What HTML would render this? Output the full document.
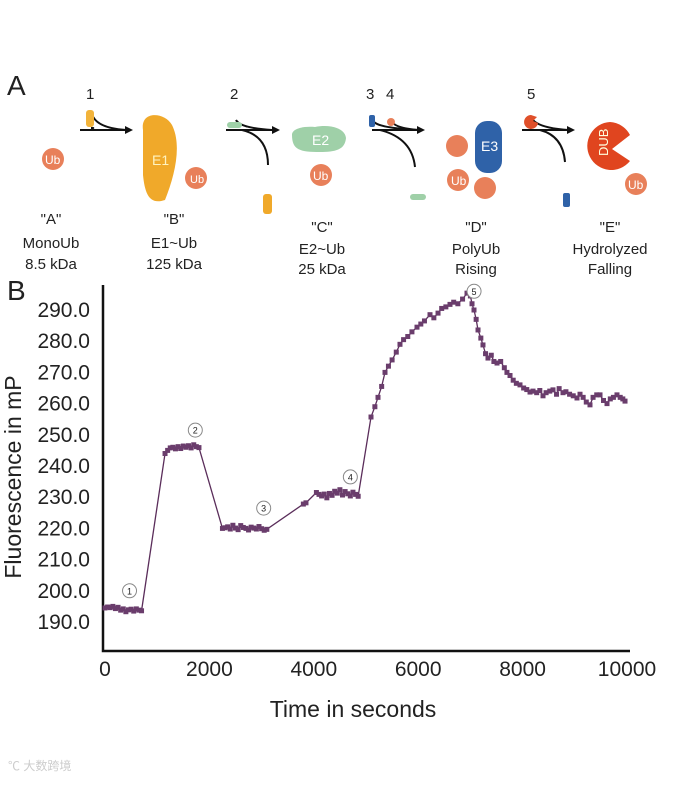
<!DOCTYPE html>
<html><head><meta charset="utf-8">
<style>
html,body{margin:0;padding:0;background:#fff;}
body{width:673px;height:780px;overflow:hidden;font-family:"Liberation Sans",sans-serif;}
svg text{font-family:"Liberation Sans",sans-serif;}
</style></head>
<body>
<svg id="fig" width="673" height="780" viewBox="0 0 673 780" xmlns="http://www.w3.org/2000/svg">
 <g fill="#222">
  <text x="7" y="95" font-size="28">A</text>
  <g font-size="15">
   <text x="86" y="99">1</text><text x="230" y="99">2</text><text x="366" y="99">3</text><text x="386" y="99">4</text><text x="527" y="99">5</text>
  </g>
  <g stroke="#111" stroke-width="2" fill="none">
   <path d="M80 130 L128 130"/><path d="M91 128 Q95 128 92 128"/><path d="M92 114 Q96 128 126 130"/>
   <path d="M226 130 L275 130"/><path d="M236 120 Q240 128 272 130"/><path d="M242 130 Q268 136 268 165"/>
   <path d="M372 130 L420 130"/><path d="M374 122 Q380 128 418 130"/><path d="M392 122 Q396 128 418 130"/><path d="M380 130 Q412 138 415 167"/>
   <path d="M522 130 L570 130"/><path d="M533 120 Q540 128 568 130"/><path d="M540 130 Q563 136 565 162"/>
  </g>
  <g fill="#111">
   <path d="M133 130 l-8 -4 v8z"/><path d="M280 130 l-8 -4 v8z"/><path d="M425 130 l-8 -4 v8z"/><path d="M575 130 l-8 -4 v8z"/>
  </g>
  <rect x="86" y="110" width="8" height="17" rx="3" fill="#f2b33a"/>
  <circle cx="53" cy="159" r="11" fill="#e8805a"/><text x="45" y="164" font-size="12" fill="#fff">Ub</text>
  <path d="M143 130 C140 110 165 112 172 125 C182 145 175 175 165 200 C150 205 145 195 143 175Z" fill="#f0a92a"/>
  <text x="152" y="165" font-size="14" fill="#fff3c0">E1</text>
  <circle cx="196" cy="178" r="11" fill="#e8805a"/><text x="190" y="183" font-size="11" fill="#fff">Ub</text>
  <rect x="227" y="122" width="15" height="6" rx="3" fill="#9fd0a8"/>
  <rect x="263" y="194" width="9" height="20" rx="3" fill="#f0a92a"/>
  <path d="M292 135 C292 128 305 126 315 127 C330 124 345 128 346 138 C345 150 335 152 320 152 C300 152 292 150 292 135Z" fill="#9fd0a8"/>
  <text x="312" y="145" font-size="14" fill="#fff">E2</text>
  <circle cx="321" cy="175" r="11" fill="#e8805a"/><text x="313" y="180" font-size="12" fill="#fff">Ub</text>
  <rect x="369" y="115" width="6" height="12" rx="2" fill="#2f62a8"/>
  <circle cx="391" cy="122" r="4" fill="#e8805a"/>
  <rect x="410" y="194" width="16" height="6" rx="3" fill="#9fd0a8"/>
  <rect x="475" y="121" width="27" height="52" rx="12" fill="#2f62a8"/>
  <text x="481" y="151" font-size="14" fill="#fff">E3</text>
  <circle cx="457" cy="146" r="11" fill="#e8805a"/><circle cx="458" cy="180" r="11" fill="#e8805a"/><circle cx="485" cy="188" r="11" fill="#e8805a"/>
  <text x="451" y="185" font-size="12" fill="#fff">Ub</text>
  <path d="M531 115 a7 7 0 1 0 7 8 l-5 -2 l4 -4z" fill="#e0502a"/>
  <rect x="563" y="193" width="7" height="14" rx="2" fill="#2f62a8"/>
  <path d="M610 122 a24 24 0 1 0 20 39 l-18 -12 l18 -14 a24 24 0 0 0 -20 -13z" fill="#e0451f"/>
  <text x="596" y="152" font-size="13" fill="#ffd" transform="rotate(-90 604 148)">DUB</text>
  <circle cx="636" cy="184" r="11" fill="#e8805a"/><text x="628" y="189" font-size="12" fill="#fff">Ub</text>
  <g font-size="15" text-anchor="middle" fill="#222">
   <text x="51" y="224">"A"</text><text x="51" y="248">MonoUb</text><text x="51" y="269">8.5 kDa</text>
   <text x="174" y="224">"B"</text><text x="174" y="248">E1~Ub</text><text x="174" y="269">125 kDa</text>
   <text x="322" y="232">"C"</text><text x="322" y="254">E2~Ub</text><text x="322" y="274">25 kDa</text>
   <text x="476" y="232">"D"</text><text x="476" y="254">PolyUb</text><text x="476" y="274">Rising</text>
   <text x="610" y="232">"E"</text><text x="610" y="254">Hydrolyzed</text><text x="610" y="274">Falling</text>
  </g>
 </g>
 <text x="7" y="300" font-size="28" fill="#222">B</text>
 <g id="chart"></g>
 <text x="8" y="770" font-size="12" fill="#ccc" font-family="Liberation Sans, WenQuanYi Zen Hei, sans-serif">℃ 大数跨境</text>
</svg>
<script>
const times = [0,50,100,150,200,250,300,350,400,450,500,550,600,650,700,
1150,1200,1250,1300,1350,1400,1450,1500,1550,1600,1650,1700,1750,1800,
2250,2300,2350,2400,2450,2500,2550,2600,2650,2700,2750,2800,2850,2900,2950,3000,3050,3100,
3800,3850,
4050,4100,4150,4200,4250,4300,4350,4400,4450,4500,4550,4600,4650,4700,4750,4800,4850,
5096,5170,5230,5300,5364,5430,5500,5580,5651,5720,5800,5880,5977,6050,6120,6226,6300,6380,6450,6530,6609,6680,6760,6850,6935,
7000,7031,7069,7110,7146,7200,7241,7290,7337,7400,7450,7510,7580,7650,7700,7759,7820,7880,7950,8020,8080,8142,8200,8270,8330,8391,8450,8520,8582,8650,8700,8774,8830,8900,8970,9042,9100,9160,9220,9291,9350,9420,9483,9550,9617,9680,9740,9808,9870,9920,9962];
const values = [194.5,194.8,194.6,195,194.3,194.7,193.8,194.2,193.3,193.9,194.1,193.5,194.2,193.8,193.6,
244,245,245.8,246,245.5,246.2,245.6,246.4,246,246.5,245.8,246.8,246.2,245.9,
220,220.2,220.5,219.8,221,220.1,219.6,220.9,220.3,220,219.5,220.4,220.1,219.8,220.6,219.9,219.4,219.7,
227.8,228.2,
231.5,230.9,230.4,231,229.8,231.2,230.6,231.9,231.3,232.4,230.7,231.8,231.1,230.4,231.6,230.9,230.3,
255.7,259,262,265.5,270,272,274,276.5,279,280.5,281.5,283,284.5,285.5,286.5,288.5,287.5,289,290.5,291,291.8,292.5,292,293.5,295.4,
294.5,292,290,287,283.6,281,278.8,276,274.6,275.5,273.5,273,273.5,271.5,270,269,267.5,266.5,266,265,264.5,263.7,264,263.5,264.2,262.5,263.5,264,264.4,263,264.8,263.5,263.8,263,262.5,261.8,263,262,260.5,259.6,262,262.8,262.8,261,260,261.5,262,262.8,262,261.5,260.8];
const yTicks = [190,200,210,220,230,240,250,260,270,280,290];
const xTicks = [0,2000,4000,6000,8000,10000];
const annotTimes = [470,1730,3040,4700,7070];
const annotValues = [200,251.5,226.5,236.5,296];
const annotLabels = ["1","2","3","4","5"];

const NS="http://www.w3.org/2000/svg";
const g=document.getElementById('chart');
const X=t=>105+t*0.0522;
const Y=v=>622-(v-190)*3.12;
function mk(tag,attrs,parent){const e=document.createElementNS(NS,tag);for(const k in attrs)e.setAttribute(k,attrs[k]);(parent||g).appendChild(e);return e;}
let ax=mk('path',{d:'M103 285 V651 H630',stroke:'#111','stroke-width':2.5,fill:'none'});


yTicks.forEach(v=>{const t=mk('text',{x:90,y:Y(v)+7,'text-anchor':'end','font-size':21,fill:'#222'});t.textContent=v.toFixed(1);

});
xTicks.forEach(v=>{const t=mk('text',{x:X(v),y:676,'text-anchor':'middle','font-size':21,fill:'#222'});t.textContent=v;

});
let xt=mk('text',{x:353,y:717,'text-anchor':'middle','font-size':23,fill:'#222'});xt.textContent='Time in seconds';


let yt=mk('text',{x:21,y:477,'text-anchor':'middle','font-size':23,fill:'#222',transform:'rotate(-90 21 477)'});yt.textContent='Fluorescence in mP';


let line=mk('polyline',{points:times.map((t,i)=>X(t)+','+Y(values[i])).join(' '),fill:'none',stroke:'#5a2d5a','stroke-width':1.3});


times.forEach((t,i)=>{const r=mk('rect',{x:X(t)-2.5,y:Y(values[i])-2.5,width:5,height:5,fill:'#6a3d6c'});

});
annotTimes.forEach((t,i)=>{const c=mk('circle',{cx:X(t),cy:Y(annotValues[i]),r:7,fill:'#fff',stroke:'#888','stroke-width':1});


const tx=mk('text',{x:X(t),y:Y(annotValues[i])+3.5,'text-anchor':'middle','font-size':9,fill:'#222'});tx.textContent=annotLabels[i];

});
</script>
</body></html>
